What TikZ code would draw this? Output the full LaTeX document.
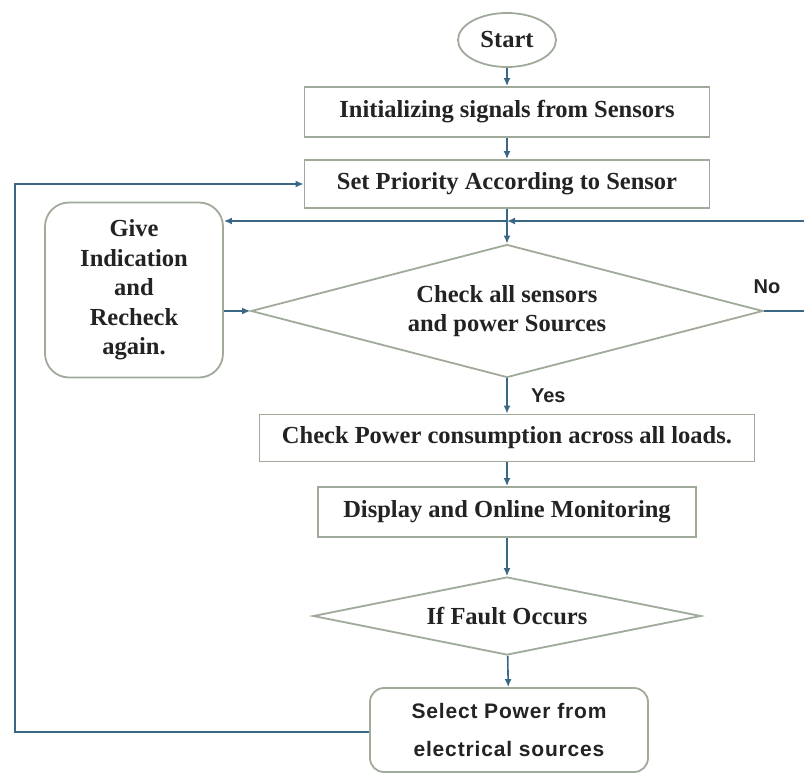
\documentclass[tikz,border=0pt]{standalone}
\usepackage{fontspec}
\setmainfont{Liberation Serif}
\newfontfamily\selfont[LetterSpace=4]{Liberation Sans}
\newfontfamily\tagfont{Liberation Sans}
\usepackage{xcolor}
\usetikzlibrary{shapes.geometric,arrows.meta}
\definecolor{flowline}{RGB}{58,104,132}
\definecolor{boxline}{RGB}{160,170,155}
\definecolor{inktext}{RGB}{35,35,35}

\begin{document}
\begin{tikzpicture}[x=1pt,y=-1pt,
  font=\bfseries\fontsize{24.5}{29.5}\selectfont, text=inktext,
  procbox/.style={draw=boxline,line width=1.8pt,rectangle,inner sep=0pt},
  decbox/.style={draw=boxline,line width=1.8pt,diamond,inner sep=0pt,align=center},
  roundbox/.style={draw=boxline,line width=1.8pt,rectangle,rounded corners=24pt,inner sep=0pt,align=center},
  flow/.style={draw=flowline,line width=1.6pt,-{Latex[length=8pt,width=7pt]}},
  tag/.style={font=\tagfont\bfseries\fontsize{20}{24}\selectfont}]
  \useasboundingbox (0,0) rectangle (804,774);
  \clip (0,0) rectangle (804,774);
  \fill[white] (0,0) rectangle (804,774);

  \node[draw=boxline,line width=1.8pt,ellipse,minimum width=98pt,minimum height=54pt,inner sep=0pt] (start) at (507,40) {Start};
  \node[procbox,minimum width=405pt,minimum height=50pt] (init) at (507,112) {Initializing signals from Sensors};
  \node[procbox,minimum width=405pt,minimum height=48pt] (prio) at (507,184) {Set Priority According to Sensor};
  \node[roundbox,minimum width=178pt,minimum height=175pt,text width=170pt] (give) at (134,290) {Give\\Indication\\and\\Recheck\\again.};
  \node[decbox,aspect=3.85,minimum width=512pt,minimum height=133pt] (chk) at (507,311) {Check all sensors\\and power Sources};
  \node[procbox,minimum width=495pt,minimum height=47pt] (cons) at (507,438) {Check Power consumption across all loads.};
  \node[procbox,minimum width=378pt,minimum height=50pt] (disp) at (507,512) {Display and Online Monitoring};
  \node[decbox,aspect=4.97,minimum width=388pt,minimum height=78pt] (fault) at (507,616) {If Fault Occurs};
  \node[roundbox,rounded corners=14pt,minimum width=278pt,minimum height=84pt,font=\selfont\bfseries\fontsize{21}{38}\selectfont] (sel) at (509,730) {Select Power from\\electrical sources};
  \node[tag] (nolbl) at (767,287) {No};

  \coordinate (jn) at (507,221);
  \coordinate (noturn) at (816,221);
  \coordinate (back) at (15,732);
  \draw[flow] (start) -- (init);
  \draw[flow] (init) -- (prio);
  \draw[draw=flowline,line width=1.6pt] (prio) -- (jn);
  \draw[flow] (jn) -- (chk);
  \draw[flow] (chk.east) -- (chk.east -| noturn) -- (noturn) -- (jn);
  \draw[flow] (jn) -- (give.east |- jn);
  \draw[flow] (give.east |- chk.west) -- (chk.west);
  \draw[flow] (chk) -- node[tag,right=20pt] (yeslbl) {Yes} (cons);
  \draw[flow] (cons) -- (disp);
  \draw[flow] (disp) -- (fault);
  \draw[flow] (fault) -- (sel);
  \draw[flow] (sel.west |- back) -- (back) |- (prio.west);
\end{tikzpicture}
\end{document}
